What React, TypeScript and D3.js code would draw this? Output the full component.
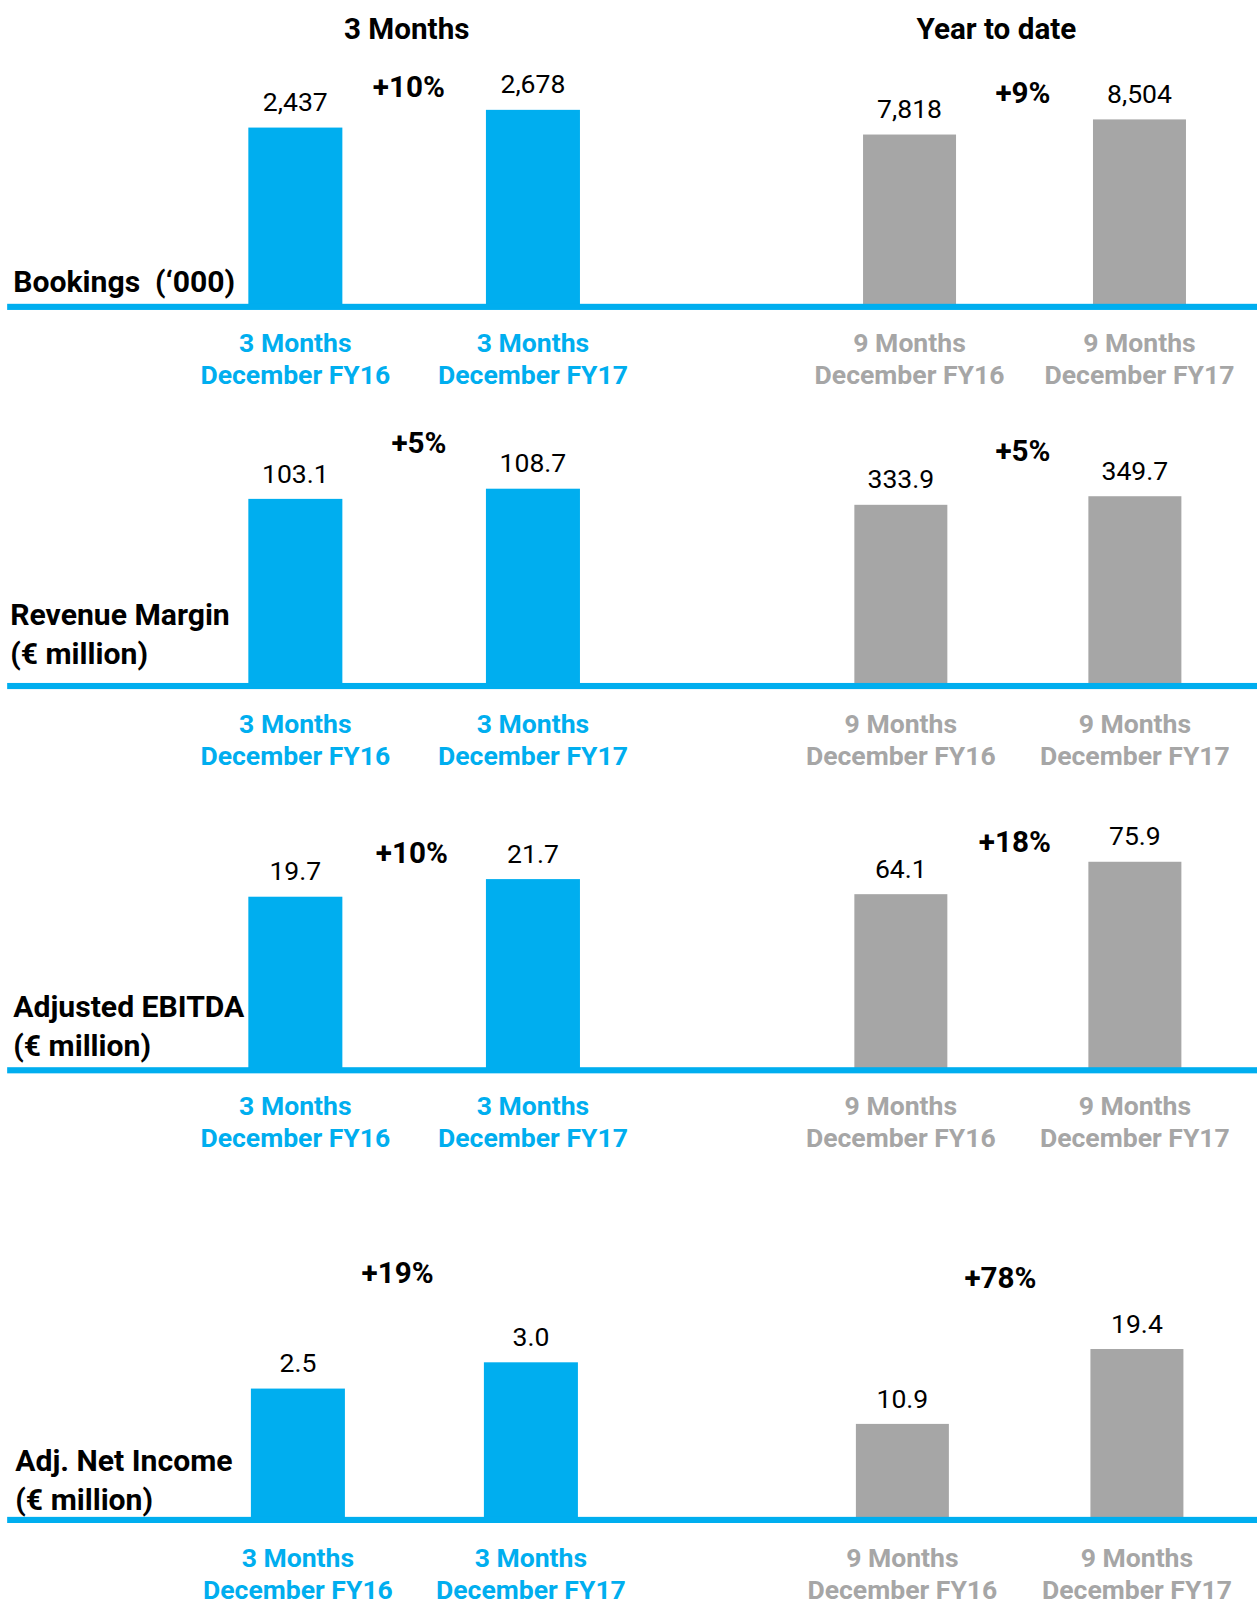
import React from 'react';
import * as d3 from 'd3';

// ---------- DATA ----------
const groupTitles = ['3 Months', 'Year to date'];
const metricLabels: string[][] = [
  ['Bookings  (\u2018000)'],
  ['Revenue Margin', '(\u20ac million)'],
  ['Adjusted EBITDA', '(\u20ac million)'],
  ['Adj. Net Income', '(\u20ac million)'],
];
const quarterCategories = [
  ['3 Months', 'December FY16'],
  ['3 Months', 'December FY17'],
];
const ytdCategories = [
  ['9 Months', 'December FY16'],
  ['9 Months', 'December FY17'],
];
const quarterValues: number[][] = [
  [2437, 2678],
  [103.1, 108.7],
  [19.7, 21.7],
  [2.5, 3.0],
];
const ytdValues: number[][] = [
  [7818, 8504],
  [333.9, 349.7],
  [64.1, 75.9],
  [10.9, 19.4],
];
const quarterChange = ['+10%', '+5%', '+10%', '+19%'];
const ytdChange = ['+9%', '+5%', '+18%', '+78%'];
const valueFormats = [',', '.1f', '.1f', '.1f'];
// axis maxima of each panel's (hidden) value axis
const quarterAxisMax = [2778, 112.6, 23.2, 3.89];
const ytdAxisMax = [9272, 376.6, 74.4, 23.2];

// ---------- LAYOUT ----------
const W = 1230;
const H = 1568;
const PLOT_H = 200;
const BLUE = '#00AEEF';
const GREY = '#A6A6A6';
const FONT = 'Roboto, "Open Sans", sans-serif';

const baselines = [300, 671, 1047, 1487];
const catOffsets = [44, 46, 44, 46];
const quarterRange: [number, number][] = [[289, 521.5], [289, 521.5], [289, 521.5], [291.5, 519.5]];
const ytdRange: [number, number][] = [[890, 1115], [881.5, 1110.5], [881.5, 1110.5], [883, 1112.5]];
const blueBarW = 92;
const greyBarW = 91;
const quarterPctPos: [number, number][] = [[400, 85], [410, 433], [403, 834], [389, 1245]];
const ytdPctPos: [number, number][] = [[1001, 91], [1001, 441], [993, 823], [979, 1250]];
const labelPos: [number, number][] = [[13, 285], [10, 611], [13, 995], [15, 1439]];
const titlePos: [number, number][] = [[398, 38], [975, 38]];

function Group({ values, cats, axisMax, range, barW, color, baseline, catOff, pct, pctPos, fmt }: any) {
  const x = d3.scalePoint<number>().domain(values.map((_: number, i: number) => i)).range(range);
  const y = d3.scaleLinear().domain([0, axisMax]).range([baseline, baseline - PLOT_H]);
  const f = d3.format(fmt);
  return (
    <g>
      {values.map((v: number, i: number) => {
        const cx = x(i) as number;
        return (
          <g key={i}>
            <rect x={cx - barW / 2} y={y(v)} width={barW} height={baseline - y(v)} fill={color} />
            <text x={cx} y={y(v) - 16} textAnchor="middle" fontSize={26} fill="#000" fontFamily={FONT}>
              {f(v)}
            </text>
            {cats[i].map((t: string, j: number) => (
              <text key={j} x={cx} y={baseline + catOff + j * 31} textAnchor="middle" fontSize={26}
                fontWeight={700} fill={color} fontFamily={FONT}>{t}</text>
            ))}
          </g>
        );
      })}
      <text x={pctPos[0]} y={pctPos[1] + 10} textAnchor="middle" fontSize={29} fontWeight={700}
        fill="#000" fontFamily={FONT}>{pct}</text>
    </g>
  );
}

export default function App() {
  return (
    <svg width={1257} height={1603} viewBox={`0 0 ${W} ${H}`}
      style={{ position: 'absolute', left: 0, top: 0, background: '#fff' }}>
      <rect x={0} y={0} width={W} height={H} fill="#fff" />
      {groupTitles.map((t, i) => (
        <text key={t} x={titlePos[i][0]} y={titlePos[i][1]} textAnchor="middle" fontSize={29}
          fontWeight={700} fill="#000" fontFamily={FONT}>{t}</text>
      ))}
      {baselines.map((b, p) => (
        <g key={p}>
          {metricLabels[p].map((t, j) => (
            <text key={j} x={labelPos[p][0]} y={labelPos[p][1] + j * 38} fontSize={29.5} fontWeight={700}
              fill="#000" fontFamily={FONT} style={{ whiteSpace: 'pre' }}>{t}</text>
          ))}
          <Group values={quarterValues[p]} cats={quarterCategories} axisMax={quarterAxisMax[p]}
            range={quarterRange[p]} barW={blueBarW} color={BLUE} baseline={b} catOff={catOffsets[p]}
            pct={quarterChange[p]} pctPos={quarterPctPos[p]} fmt={valueFormats[p]} />
          <Group values={ytdValues[p]} cats={ytdCategories} axisMax={ytdAxisMax[p]}
            range={ytdRange[p]} barW={greyBarW} color={GREY} baseline={b} catOff={catOffsets[p]}
            pct={ytdChange[p]} pctPos={ytdPctPos[p]} fmt={valueFormats[p]} />
          <rect x={7} y={b - 3} width={W - 7} height={6} fill={BLUE} />
        </g>
      ))}
    </svg>
  );
}
